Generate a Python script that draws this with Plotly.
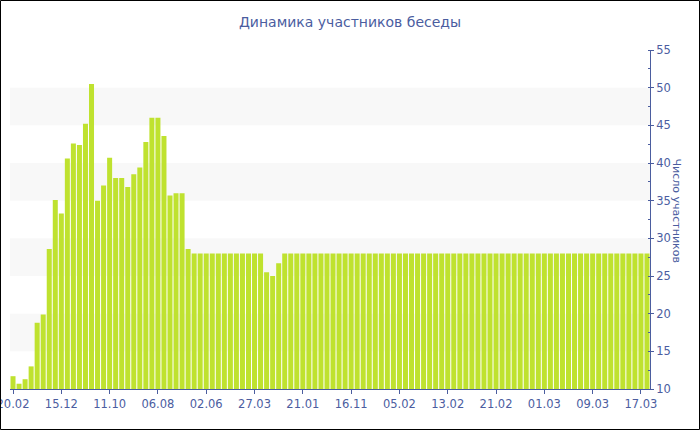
import plotly.graph_objects as go

# Values (number of participants per period)
participants = [
    11.7, 10.7, 11.3, 13.0, 18.8, 19.9, 28.6, 35.1, 33.3, 40.6,
    42.6, 42.4, 45.2, 50.5, 35.0, 37.0, 40.7, 38.0, 38.0, 36.8,
    38.5, 39.4, 42.8, 46.0, 46.0, 43.6, 35.7, 36.0, 36.0, 28.6,
    28, 28, 28, 28, 28, 28, 28, 28, 28, 28,
    28, 28, 25.5, 25.0, 26.7, 28, 28, 28, 28, 28,
    28, 28, 28, 28, 28, 28, 28, 28, 28, 28,
    28, 28, 28, 28, 28, 28, 28, 28, 28, 28,
    28, 28, 28, 28, 28, 28, 28, 28, 28, 28,
    28, 28, 28, 28, 28, 28, 28, 28, 28, 28,
    28, 28, 28, 28, 28, 28, 28, 28, 28, 28,
    28, 28, 28, 28, 28, 28,
]
tick_labels = ["20.02", "15.12", "11.10", "06.08", "02.06", "27.03", "21.01",
               "16.11", "05.02", "13.02", "21.02", "01.03", "09.03", "17.03"]
band_ranges = [(15, 20), (25, 30), (35, 40), (45, 50)]

bar_index = list(range(len(participants)))
tick_positions = bar_index[::8][:len(tick_labels)]

AXIS_COLOR = "#4b5d9f"
FONT = "DejaVu Sans"

fig = go.Figure(go.Bar(
    x=bar_index,
    y=participants,
    marker=dict(color="#bfe22f", line=dict(width=0)),
    hoverinfo="y",
))

shapes = []
for lo, hi in band_ranges:
    shapes.append(dict(type="rect", xref="paper", yref="y", x0=0, x1=1, y0=lo, y1=hi,
                       fillcolor="#f8f8f8", line=dict(width=0), layer="below"))
# outer frame
shapes.append(dict(type="rect", xref="paper", yref="paper",
                   x0=-9.5 / 640, x1=689.5 / 640, y0=-40.5 / 339, y1=388.5 / 339,
                   line=dict(color="black", width=1), fillcolor="rgba(0,0,0,0)"))

fig.update_layout(
    width=700, height=430,
    margin=dict(l=10, r=50, t=50, b=41),
    paper_bgcolor="white", plot_bgcolor="white",
    bargap=0.17,
    showlegend=False,
    font=dict(family=FONT, color=AXIS_COLOR, size=11.5),
    title=dict(text="Динамика участников беседы", x=0.5, xanchor="center",
               y=1 - 22 / 430, yanchor="middle", yref="container",
               font=dict(family=FONT, size=14, color=AXIS_COLOR)),
    xaxis=dict(
        range=[-0.5, len(participants) - 0.5],
        tickmode="array", tickvals=tick_positions, ticktext=tick_labels,
        ticks="outside", ticklen=4, tickcolor=AXIS_COLOR,
        showline=True, linecolor=AXIS_COLOR, linewidth=1,
        showgrid=False, zeroline=False,
        tickfont=dict(family=FONT, size=11.5, color=AXIS_COLOR),
        ticklabeloverflow="allow",
        automargin=False,
    ),
    yaxis=dict(
        range=[10, 55], side="right", dtick=5, tick0=10,
        ticks="outside", ticklen=3, tickcolor=AXIS_COLOR,
        showline=True, linecolor=AXIS_COLOR, linewidth=1,
        showgrid=False, zeroline=False,
        tickfont=dict(family=FONT, size=11.5, color=AXIS_COLOR),
        minor=dict(dtick=2.5, ticks="inside", ticklen=2, tickcolor=AXIS_COLOR, showgrid=False),
        automargin=False,
    ),
    shapes=shapes,
    annotations=[dict(text="Число участников", xref="paper", yref="paper",
                      x=(685 - 10) / 640, y=(389 - 210) / 339,
                      showarrow=False, textangle=90,
                      font=dict(family=FONT, size=11, color=AXIS_COLOR))],
)

fig.write_html("out.html",
               config={"displayModeBar": False},
               post_script="document.body.style.margin='0';document.body.style.overflow='hidden';")
